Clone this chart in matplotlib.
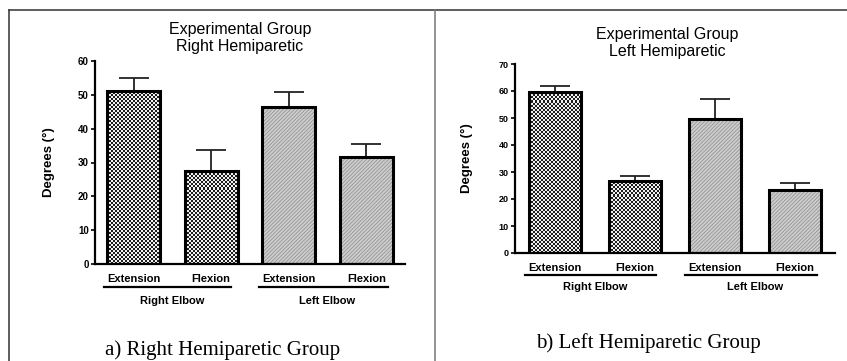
import numpy as np
import matplotlib
matplotlib.use("Agg")
import matplotlib.pyplot as plt
from matplotlib.colors import ListedColormap
from matplotlib.lines import Line2D
import matplotlib.transforms as mtransforms

plt.rcParams['font.family'] = ['Liberation Sans', 'DejaVu Sans']
plt.rcParams['hatch.linewidth'] = 0.5

# data
movements = ["Extension", "Flexion", "Extension", "Flexion"]
joints = ["Right Elbow", "Left Elbow"]

right_mean = [51, 27.6, 46.5, 31.7]
right_err = [4.0, 6.2, 4.4, 3.7]

left_mean = [59.8, 26.8, 49.7, 23.5]
left_err = [1.9, 1.6, 7.5, 2.3]

W, H = 847, 361
fig = plt.figure(figsize=(W / 100, H / 100), dpi=100)

checker_cmap = ListedColormap(["#1e1e1e", "#f2f2f2"])


def fy(y):
    return 1 - y / H


def checker(ax, bar):
    # 2 px checkerboard, exact pixel scale, clipped to the bar
    x0, y0 = bar.get_x(), bar.get_y()
    w, h = bar.get_width(), bar.get_height()
    p = ax.transData.transform([(x0, y0), (x0 + w, y0 + h)])
    nx = int(np.ceil((p[1, 0] - p[0, 0]) / 2)) + 1
    ny = int(np.ceil((p[1, 1] - p[0, 1]) / 2)) + 1
    inv = ax.transData.inverted()
    q = inv.transform([(p[0, 0], p[0, 1]), (p[0, 0] + 2 * nx, p[0, 1] + 2 * ny)])
    grid = np.add.outer(np.arange(ny), np.arange(nx)) % 2
    im = ax.imshow(grid, cmap=checker_cmap, extent=(q[0, 0], q[1, 0], q[0, 1], q[1, 1]),
                   origin="lower", interpolation="nearest", aspect="auto", zorder=1)
    im.set_clip_path(bar)


def panel(rect, means, errs, ymax, width, tick_fs, title, title_xy, ylab_x):
    ax = fig.add_axes(rect)
    x = np.arange(len(means))
    ax.set_xlim(-0.5, 3.5)
    ax.set_ylim(0, ymax)

    # left elbow bars: grey with fine diagonal hatch
    ax.bar(x[2:], means[2:], width, color="#cdcdcd", edgecolor="#8c8c8c",
           hatch="/" * 9, linewidth=0, zorder=1)
    # right elbow bars: checkerboard
    bars = ax.bar(x[:2], means[:2], width, color="none", linewidth=0)
    for b in bars:
        checker(ax, b)
    # outlines
    ax.bar(x, means, width, fill=False, edgecolor="black", linewidth=2.2, zorder=3)
    ax.errorbar(x, means, yerr=[np.zeros(len(errs)), errs], fmt="none",
                ecolor="#222222", elinewidth=1.3, capsize=10.8, capthick=1.3, zorder=2)

    ax.set_xlim(-0.5, 3.5)
    ax.set_ylim(0, ymax)
    ax.set_yticks(np.arange(0, ymax + 1, 10))
    ax.spines[["top", "right"]].set_visible(False)
    ax.spines[["left", "bottom"]].set_linewidth(1.6)
    ax.tick_params(axis="y", length=3, width=1.2, labelsize=tick_fs, pad=1.5)
    for t in ax.get_yticklabels():
        t.set_fontweight("bold")
    ax.set_xticks(x, movements, fontsize=8, fontweight="bold")
    ax.tick_params(axis="x", length=0, pad=7)

    ax.set_ylabel("Degrees (°)", fontsize=9.5, fontweight="bold")
    ax.yaxis.set_label_coords(ylab_x, 0.5)

    trans = mtransforms.blended_transform_factory(ax.transData, ax.transAxes)
    for (a, b), name, c in zip([(-0.38, 1.26), (1.62, 3.28)], joints, [0.5, 2.5]):
        ax.add_line(Line2D([a, b], [-0.115, -0.115], transform=trans,
                           color="black", linewidth=1.6, clip_on=False))
        ax.text(c, -0.18, name, transform=trans, ha="center", va="center",
                fontsize=8, fontweight="bold")

    fig.text(title_xy[0], title_xy[1], title, ha="center", va="center",
             fontsize=11.5, linespacing=1.15)
    return ax


panel([95 / W, fy(264), 310 / W, 203 / H], right_mean, right_err, 60, 0.68, 7,
      "Experimental Group\nRight Hemiparetic", (240 / W, fy(38)), -0.128)
panel([515 / W, fy(253), 320 / W, 189 / H], left_mean, left_err, 70, 0.66, 6.5,
      "Experimental Group\nLeft Hemiparetic", (667 / W, fy(43)), -0.13)

fig.text(223 / W, fy(350), "a) Right Hemiparetic Group", ha="center", va="center",
         fontsize=15, family=["Liberation Serif", "DejaVu Serif"])
fig.text(648 / W, fy(343), "b) Left Hemiparetic Group", ha="center", va="center",
         fontsize=15, family=["Liberation Serif", "DejaVu Serif"])

# table frame around the two panels
fig.add_artist(Line2D([9 / W, 1], [fy(10), fy(10)], color="#333333", linewidth=1.1))
fig.add_artist(Line2D([9 / W, 9 / W], [fy(10), 0], color="#333333", linewidth=1.1))
fig.add_artist(Line2D([435 / W, 435 / W], [fy(10), 0], color="#777777", linewidth=1.1))

fig.savefig("out.png", dpi=100)
